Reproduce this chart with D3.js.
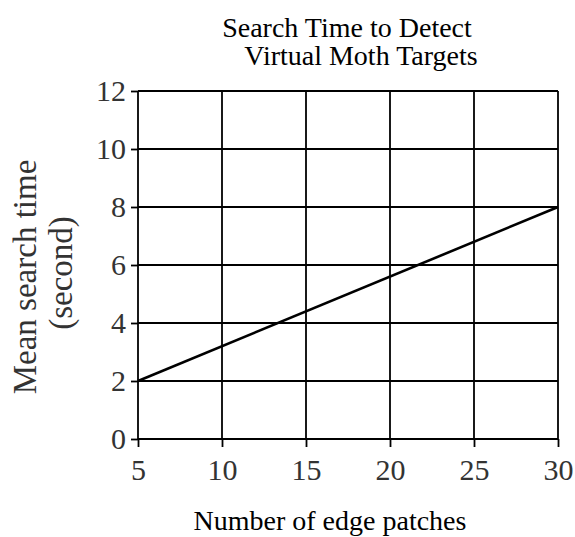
<!DOCTYPE html>
<html lang="en">
<head>
    <meta charset="utf-8">
    <title>Search Time to Detect Virtual Moth Targets</title>
    <script src="https://d3js.org/d3.v7.min.js"></script>
    <style>
        body { margin: 0; background: #fff; }
        svg text { font-family: "Liberation Serif", "DejaVu Serif", serif; }
    </style>
</head>
<body>
    <svg width="575" height="537"></svg>
    <script>
        // values
        const edgePatches = [5, 30];
        const searchTime = [2, 8];
        const xTicks = [5, 10, 15, 20, 25, 30];
        const yTicks = [0, 2, 4, 6, 8, 10, 12];
        const titleLines = ["Search Time to Detect", "Virtual Moth Targets"];

        const data = edgePatches.map((x, i) => ({ x: x, y: searchTime[i] }));

        const svg = d3.select("svg"),
            margin = { top: 91, right: 17, bottom: 98, left: 138 },
            width = +svg.attr("width") - margin.left - margin.right,
            height = +svg.attr("height") - margin.top - margin.bottom,
            g = svg.append("g").attr("transform", "translate(" + margin.left + "," + margin.top + ")");

        const xScale = d3.scaleLinear().domain([5, 30]).range([0, width]);
        const yScale = d3.scaleLinear().domain([0, 12]).range([height, 0]);

        // grid
        g.append("g").selectAll("line").data(yTicks).join("line")
            .attr("x1", 0).attr("x2", width)
            .attr("y1", d => yScale(d)).attr("y2", d => yScale(d))
            .attr("stroke", "#000").attr("stroke-width", 1.8);
        g.append("g").selectAll("line").data(xTicks).join("line")
            .attr("y1", 0).attr("y2", height)
            .attr("x1", d => xScale(d)).attr("x2", d => xScale(d))
            .attr("stroke", "#000").attr("stroke-width", 1.8);

        // axes
        const xAxis = g.append("g")
            .attr("transform", "translate(0," + height + ")")
            .call(d3.axisBottom(xScale).tickValues(xTicks).tickSize(8).tickPadding(12));
        const yAxis = g.append("g")
            .call(d3.axisLeft(yScale).tickValues(yTicks).tickSize(7).tickPadding(5));

        [xAxis, yAxis].forEach(ax => {
            ax.attr("font-family", "Liberation Serif").attr("font-size", 30);
            ax.select(".domain").remove();
            ax.selectAll(".tick line").attr("stroke", "#000").attr("stroke-width", 1.8);
            ax.selectAll(".tick text").attr("fill", "#333");
        });

        // data line
        g.append("path")
            .datum(data)
            .attr("fill", "none")
            .attr("stroke", "#000")
            .attr("stroke-width", 2.6)
            .attr("d", d3.line().x(d => xScale(d.x)).y(d => yScale(d.y)));

        // title
        svg.append("text")
            .attr("x", 347).attr("y", 37)
            .attr("text-anchor", "middle")
            .attr("font-size", "28px")
            .text(titleLines[0]);
        svg.append("text")
            .attr("x", 361).attr("y", 65)
            .attr("text-anchor", "middle")
            .attr("font-size", "28px")
            .text(titleLines[1]);

        // axis titles
        svg.append("text")
            .attr("x", 330).attr("y", 530)
            .attr("text-anchor", "middle")
            .attr("font-size", "28px")
            .text("Number of edge patches");

        svg.append("text")
            .attr("transform", "translate(36,277) rotate(-90)")
            .attr("text-anchor", "middle")
            .attr("font-size", "33px")
            .attr("fill", "#333")
            .text("Mean search time");
        svg.append("text")
            .attr("transform", "translate(72,273) rotate(-90)")
            .attr("text-anchor", "middle")
            .attr("font-size", "33px")
            .attr("fill", "#333")
            .text("(second)");
    </script>
</body>
</html>
